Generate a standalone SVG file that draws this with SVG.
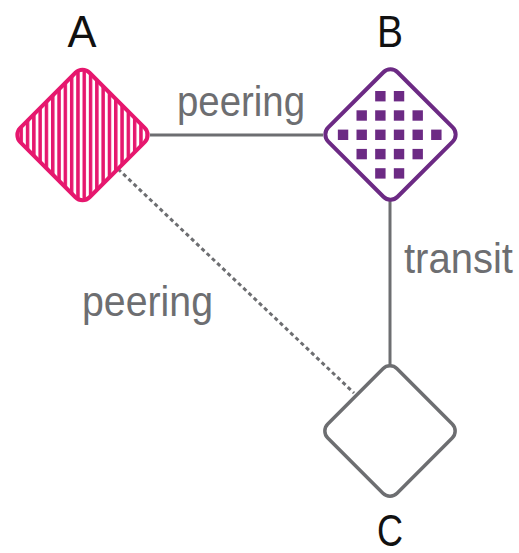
<svg xmlns="http://www.w3.org/2000/svg" width="519" height="553" viewBox="0 0 519 553">
<defs>
<style>
.lbl{font-family:"Liberation Sans",Arial,sans-serif;fill:#6d6e71;font-size:43px}
.name{font-family:"Liberation Sans",Arial,sans-serif;fill:#111;font-size:44px;text-anchor:middle}
.edge{stroke:#6d6e71;stroke-width:3;fill:none}
</style>
<pattern id="stripes" patternUnits="userSpaceOnUse" patternTransform="rotate(-45)" x="0" y="0" width="6.3" height="10">
<rect width="6.3" height="10" fill="#e6176e"/>
<rect x="3.5" width="2.8" height="10" fill="#fff"/>
</pattern>
<rect id="sq" x="-5.2" y="-5.2" width="10.4" height="10.4" fill="#6c2a84"/>
</defs>
<g id="connectors">
<line class="edge" x1="150" y1="135" x2="323" y2="135"/>
<line class="edge" x1="390" y1="198" x2="390" y2="366"/>
<line class="edge" x1="118" y1="169" x2="354" y2="393" stroke-dasharray="4 3.2"/>
</g>
<g id="A">
<rect x="-49" y="-49" width="98" height="98" rx="10" transform="translate(82.5 135) rotate(45)" fill="url(#stripes)" stroke="#e6176e" stroke-width="4"/>
<text class="name" x="82" y="47" textLength="29" lengthAdjust="spacingAndGlyphs">A</text>
</g>
<g id="B">
<rect x="-49" y="-49" width="98" height="98" rx="10" transform="translate(390.5 134.5) rotate(45)" fill="#fff" stroke="#6c2a84" stroke-width="4"/>
<g transform="translate(389.7 134.8)">
<use href="#sq" x="-9.33" y="-38.6"/><use href="#sq" x="9.33" y="-38.6"/>
<use href="#sq" x="-28" y="-19.3"/><use href="#sq" x="-9.33" y="-19.3"/><use href="#sq" x="9.33" y="-19.3"/><use href="#sq" x="28" y="-19.3"/>
<use href="#sq" x="-46.65" y="0"/><use href="#sq" x="-28" y="0"/><use href="#sq" x="-9.33" y="0"/><use href="#sq" x="9.33" y="0"/><use href="#sq" x="28" y="0"/><use href="#sq" x="46.65" y="0"/>
<use href="#sq" x="-28" y="19.3"/><use href="#sq" x="-9.33" y="19.3"/><use href="#sq" x="9.33" y="19.3"/><use href="#sq" x="28" y="19.3"/>
<use href="#sq" x="-9.33" y="38.6"/><use href="#sq" x="9.33" y="38.6"/>
</g>
<text class="name" x="390" y="47" textLength="26" lengthAdjust="spacingAndGlyphs">B</text>
</g>
<g id="C">
<rect x="-49" y="-49" width="98" height="98" rx="10" transform="translate(390 431) rotate(45)" fill="#fff" stroke="#6d6e71" stroke-width="3.5"/>
<text class="name" x="390" y="546" textLength="26" lengthAdjust="spacingAndGlyphs">C</text>
</g>
<g id="labels">
<text class="lbl" x="177" y="116" textLength="128" lengthAdjust="spacingAndGlyphs">peering</text>
<text class="lbl" x="404" y="273" textLength="109" lengthAdjust="spacingAndGlyphs">transit</text>
<text class="lbl" x="82" y="316" textLength="131" lengthAdjust="spacingAndGlyphs">peering</text>
</g>
</svg>
